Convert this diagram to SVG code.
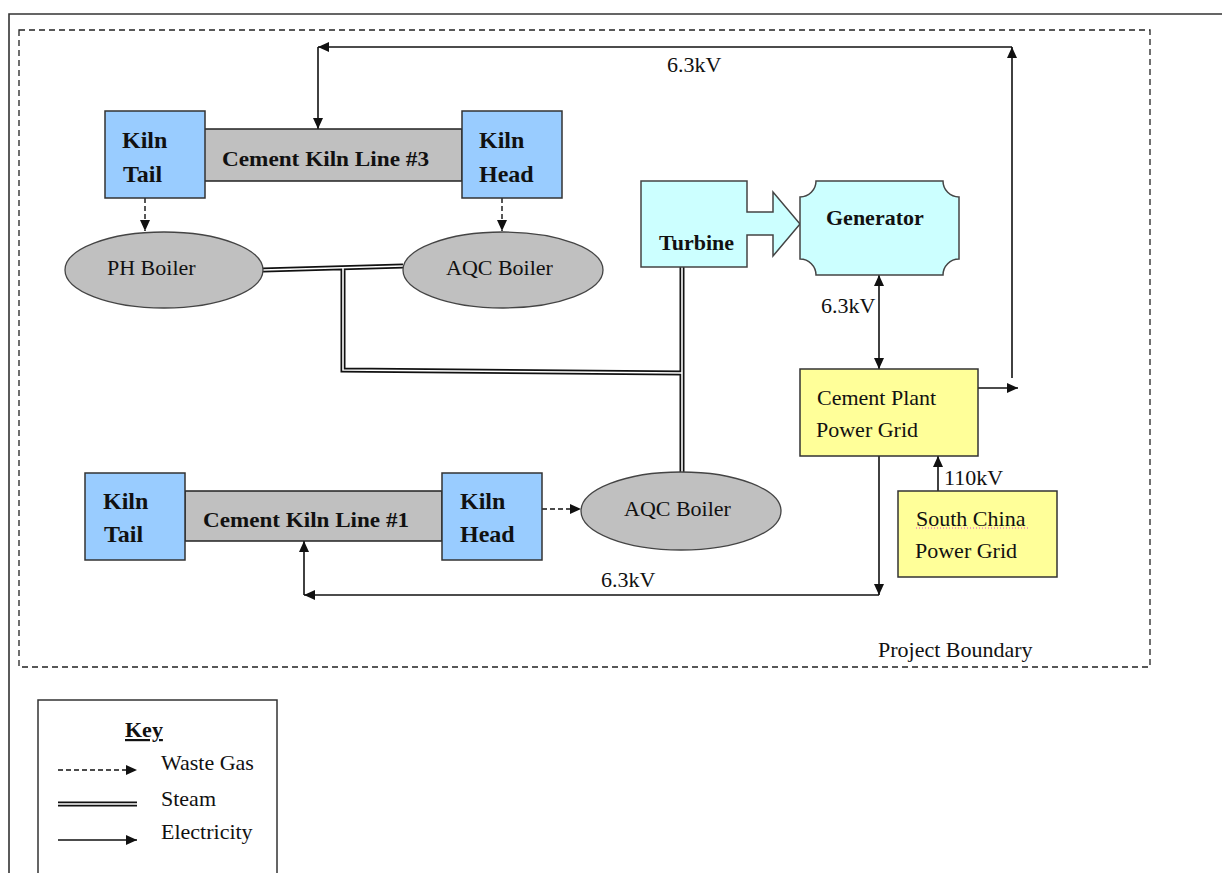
<svg xmlns="http://www.w3.org/2000/svg" width="1222" height="873" viewBox="0 0 1222 873">
<defs>
<marker id="ah" viewBox="0 0 11 10" refX="11" refY="5" markerWidth="11" markerHeight="10" markerUnits="userSpaceOnUse" orient="auto-start-reverse">
<path d="M0,0 L11,5 L0,10 Z" fill="#111"/>
</marker>
<style>
.t{font-family:"Liberation Serif","Times New Roman",serif;font-size:22px;fill:#111}
.b{font-family:"Liberation Serif","Times New Roman",serif;font-size:24px;font-weight:bold;fill:#111}
.bs{font-family:"Liberation Serif","Times New Roman",serif;font-size:22px;font-weight:bold;fill:#111}
.kiln{fill:#99CCFF;stroke:#333;stroke-width:1.5}
.bar{fill:#C0C0C0;stroke:#222;stroke-width:1.5}
.boil{fill:#C0C0C0;stroke:#444;stroke-width:1.3}
.cyan{fill:#CCFFFF;stroke:#444;stroke-width:1.5}
.yel{fill:#FFFF99;stroke:#333;stroke-width:1.5}
.el{fill:none;stroke:#111;stroke-width:1.6}
.wg{fill:none;stroke:#111;stroke-width:1.4;stroke-dasharray:5,3}
.stO{fill:none;stroke:#111;stroke-width:5}
.stI{fill:none;stroke:#fff;stroke-width:1.6}
</style>
</defs>
<rect width="1222" height="873" fill="#fff"/>
<g id="frame">
<path d="M9,880 V14 H1230" fill="none" stroke="#333" stroke-width="1.6"/>
<rect x="19" y="30" width="1131" height="637" fill="none" stroke="#222" stroke-width="1.3" stroke-dasharray="6,4"/>
<text class="t" x="878" y="657">Project Boundary</text>
</g>
<g id="connectors">
<g id="steam">
<path class="stO" d="M263,270 L403,266 M343,268 V370 L682,373 M682,267 V472"/>
<path class="stI" d="M263,270 L403,266 M343,268 V370 L682,373 M682,267 V472"/>
</g>
<g id="wastegas">
<line class="wg" x1="145" y1="198" x2="145" y2="231" marker-end="url(#ah)"/>
<line class="wg" x1="502" y1="198" x2="502" y2="231" marker-end="url(#ah)"/>
<line class="wg" x1="542" y1="509" x2="581" y2="509" marker-end="url(#ah)"/>
</g>
<g id="electricity">
<line class="el" x1="1012" y1="378" x2="1012" y2="47" marker-end="url(#ah)"/>
<line class="el" x1="1012" y1="47" x2="318" y2="47" marker-end="url(#ah)"/>
<line class="el" x1="318" y1="47" x2="318" y2="129" marker-end="url(#ah)"/>
<line class="el" x1="879" y1="275" x2="879" y2="369" marker-start="url(#ah)" marker-end="url(#ah)"/>
<line class="el" x1="978" y1="388" x2="1018" y2="388" marker-end="url(#ah)"/>
<line class="el" x1="879" y1="456" x2="879" y2="595" marker-end="url(#ah)"/>
<line class="el" x1="879" y1="595" x2="304" y2="595" marker-end="url(#ah)"/>
<line class="el" x1="304" y1="595" x2="304" y2="541" marker-end="url(#ah)"/>
<line class="el" x1="938" y1="493" x2="938" y2="456" marker-end="url(#ah)"/>
</g>
<text class="t" x="667" y="72">6.3kV</text>
<text class="t" x="821" y="313">6.3kV</text>
<text class="t" x="601" y="587">6.3kV</text>
<text class="t" x="944" y="485">110kV</text>
</g>
<g id="kiln3">
<rect class="bar" x="204" y="129" width="258" height="52"/>
<text class="bs" x="222" y="166" textLength="207" lengthAdjust="spacingAndGlyphs">Cement Kiln Line #3</text>
</g>
<g id="kilntail3">
<rect class="kiln" x="105" y="111" width="100" height="87"/>
<text class="b" x="122" y="148">Kiln</text>
<text class="b" x="123" y="182">Tail</text>
</g>
<g id="kilnhead3">
<rect class="kiln" x="462" y="111" width="100" height="87"/>
<text class="b" x="479" y="148">Kiln</text>
<text class="b" x="479" y="182">Head</text>
</g>
<g id="phboiler">
<ellipse class="boil" cx="164" cy="270" rx="99" ry="38"/>
<text class="t" x="107" y="275">PH Boiler</text>
</g>
<g id="aqcboiler3">
<ellipse class="boil" cx="503" cy="270" rx="100" ry="38"/>
<text class="t" x="446" y="275">AQC Boiler</text>
</g>
<g id="turbine">
<path class="cyan" d="M641,181 H747 V212 H773 V192 L800,224 L773,256 V235 H747 V267 H641 Z"/>
<text class="bs" x="659" y="250">Turbine</text>
</g>
<g id="generator">
<path class="cyan" d="M816,181 H943 A16,16 0 0 0 959,197 V259 A16,16 0 0 0 943,275 H816 A16,16 0 0 0 800,259 V197 A16,16 0 0 0 816,181 Z"/>
<text class="bs" x="826" y="225">Generator</text>
</g>
<g id="plantgrid">
<rect class="yel" x="800" y="369" width="178" height="87"/>
<text class="t" x="817" y="405">Cement Plant</text>
<text class="t" x="816" y="437">Power Grid</text>
</g>
<g id="southchina">
<rect class="yel" x="898" y="491" width="159" height="86"/>
<text class="t" x="916" y="526">South China</text>
<line x1="916" y1="528" x2="1030" y2="528" stroke="#e040e0" stroke-width="1" stroke-dasharray="1,2"/>
<text class="t" x="915" y="558">Power Grid</text>
</g>
<g id="kiln1">
<rect class="bar" x="185" y="491" width="257" height="50"/>
<text class="bs" x="203" y="527" textLength="206" lengthAdjust="spacingAndGlyphs">Cement Kiln Line #1</text>
</g>
<g id="kilntail1">
<rect class="kiln" x="85" y="473" width="100" height="87"/>
<text class="b" x="103" y="509">Kiln</text>
<text class="b" x="104" y="542">Tail</text>
</g>
<g id="kilnhead1">
<rect class="kiln" x="442" y="473" width="100" height="87"/>
<text class="b" x="460" y="509">Kiln</text>
<text class="b" x="460" y="542">Head</text>
</g>
<g id="aqcboiler1">
<ellipse class="boil" cx="681" cy="511" rx="100" ry="39"/>
<text class="t" x="624" y="516">AQC Boiler</text>
</g>
<g id="key">
<rect x="38" y="700" width="239" height="190" fill="#fff" stroke="#333" stroke-width="1.5"/>
<text class="bs" x="125" y="737" text-decoration="underline">Key</text>
<line class="wg" x1="58" y1="770" x2="137" y2="770" marker-end="url(#ah)"/>
<text class="t" x="161" y="770">Waste Gas</text>
<line class="stO" x1="58" y1="804" x2="137" y2="804"/>
<line class="stI" x1="58" y1="804" x2="137" y2="804"/>
<text class="t" x="161" y="806">Steam</text>
<line class="el" x1="58" y1="840" x2="137" y2="840" marker-end="url(#ah)"/>
<text class="t" x="161" y="839">Electricity</text>
</g>
</svg>
